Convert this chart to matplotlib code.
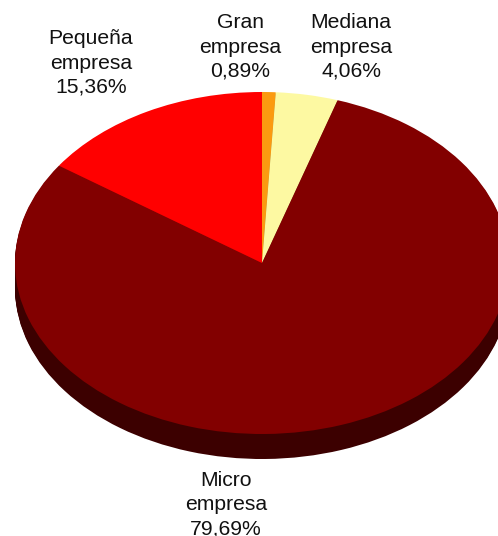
import matplotlib
matplotlib.use("Agg")
import matplotlib.pyplot as plt

W, H = 498, 536
categories = ["Gran\nempresa", "Mediana\nempresa", "Micro\nempresa", "Pequeña\nempresa"]
values = [0.89, 4.06, 79.69, 15.36]
value_labels = ["0,89%", "4,06%", "79,69%", "15,36%"]
top_colors = ["#fb9a10", "#fdf9a2", "#820000", "#ff0000"]
side_colors = ["#a06000", "#a8a060", "#3c0000", "#a00000"]

CX, CY, RX, RY, DEPTH = 262, 263, 247, 171, 25

plt.rcParams["font.family"] = ["Liberation Sans", "DejaVu Sans"]
fig = plt.figure(figsize=(W / 100, H / 100), dpi=100, facecolor="white")
ax = fig.add_axes([0, 0, 1, 1])

for d in range(DEPTH, 0, -1):
    ax.pie(values, colors=side_colors, startangle=90, counterclock=False,
           radius=1, center=(0, -d / RY), frame=True,
           wedgeprops=dict(linewidth=0))
ax.pie(values, colors=top_colors, startangle=90, counterclock=False,
       radius=1, center=(0, 0), frame=True, wedgeprops=dict(linewidth=0))

ax.set_aspect("auto")
ax.set_xlim((0 - CX) / RX, (W - CX) / RX)
ax.set_ylim((CY - H) / RY, CY / RY)
ax.axis("off")

label_px = [(240, 47), (351, 47), (226, 505), (91, 63)]
for px, cat, val in zip(label_px, categories, value_labels):
    ax.text((px[0] - CX) / RX, (CY - px[1]) / RY, f"{cat}\n{val}",
            ha="center", va="center", fontsize=15.2, color="#111111",
            linespacing=1.35, clip_on=False)

fig.savefig("out.png", dpi=100)
